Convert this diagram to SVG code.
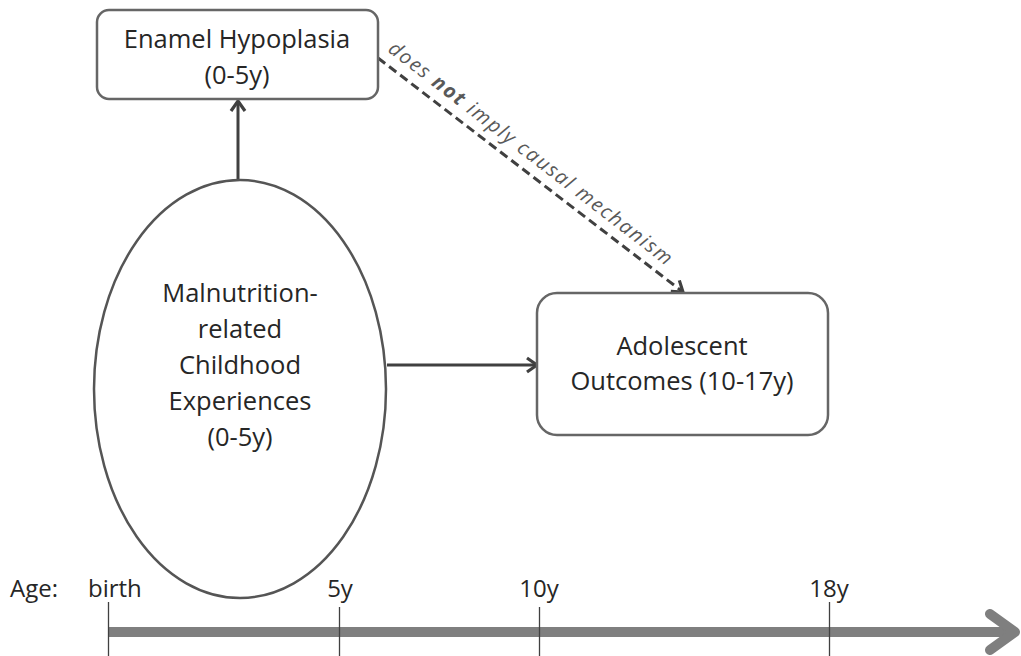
<svg xmlns="http://www.w3.org/2000/svg" width="1021" height="656" viewBox="0 0 1021 656">
<defs>
<style>
.lbl{font-family:"Open Sans","Liberation Sans",sans-serif;font-size:25.5px;fill:#262626;text-anchor:middle}
.box{fill:#fff;stroke:#666;stroke-width:2.5}
.conn{stroke:#404040;stroke-width:3;fill:none}
.tick{stroke:#404040;stroke-width:1.3}
.age{font-family:"Open Sans","Liberation Sans",sans-serif;font-size:24px;fill:#262626}
</style>
<marker id="ah" markerUnits="userSpaceOnUse" markerWidth="20" markerHeight="20" viewBox="0 0 20 20" refX="18" refY="10" orient="auto">
<path d="M8,3 L18,10 L8,17" fill="none" stroke="#404040" stroke-width="3.2" stroke-linejoin="miter"/>
</marker>
</defs>
<rect width="1021" height="656" fill="#fff"/>
<g id="connectors">
<line class="conn" x1="238" y1="180" x2="238" y2="101" marker-end="url(#ah)"/>
<line class="conn" x1="387" y1="365" x2="537" y2="365" marker-end="url(#ah)"/>
<line class="conn" x1="378" y1="58" x2="683" y2="292" stroke-dasharray="9,5" marker-end="url(#ah)"/>
<text transform="translate(387,51) rotate(37.6)" font-family="'Open Sans','Liberation Sans',sans-serif" font-size="20" font-style="italic" fill="#595959" textLength="352" lengthAdjust="spacing">does <tspan font-weight="bold">not</tspan> imply causal mechanism</text>
</g>
<g id="enamel">
<rect class="box" x="97" y="10" width="281" height="89" rx="12"/>
<text class="lbl" x="237" y="48">Enamel Hypoplasia</text>
<text class="lbl" x="237" y="84">(0-5y)</text>
</g>
<g id="malnutrition">
<ellipse cx="240" cy="389" rx="146" ry="209" fill="#fff" stroke="#555" stroke-width="2.5"/>
<text class="lbl" x="240" y="302">Malnutrition-</text>
<text class="lbl" x="240" y="338">related</text>
<text class="lbl" x="240" y="374">Childhood</text>
<text class="lbl" x="240" y="410">Experiences</text>
<text class="lbl" x="240" y="446">(0-5y)</text>
</g>
<g id="adolescent">
<rect class="box" x="537" y="293" width="291" height="142" rx="20"/>
<text class="lbl" x="682" y="355">Adolescent</text>
<text class="lbl" x="682" y="390">Outcomes (10-17y)</text>
</g>
<g id="timeline">
<line x1="109" y1="632" x2="1012" y2="632" stroke="#7f7f7f" stroke-width="10"/>
<polyline points="990,614 1015,632 990,650" fill="none" stroke="#7f7f7f" stroke-width="10" stroke-linecap="round" stroke-linejoin="round"/>
<line class="tick" x1="108.5" y1="602" x2="108.5" y2="656"/>
<line class="tick" x1="339.5" y1="607" x2="339.5" y2="656"/>
<line class="tick" x1="539.5" y1="607" x2="539.5" y2="656"/>
<line class="tick" x1="829.5" y1="602" x2="829.5" y2="656"/>
<text class="age" x="10" y="597">Age:</text>
<text class="age" x="88" y="597">birth</text>
<text class="age" x="340" y="597" text-anchor="middle">5y</text>
<text class="age" x="539" y="597" text-anchor="middle">10y</text>
<text class="age" x="829" y="597" text-anchor="middle">18y</text>
</g>
</svg>
